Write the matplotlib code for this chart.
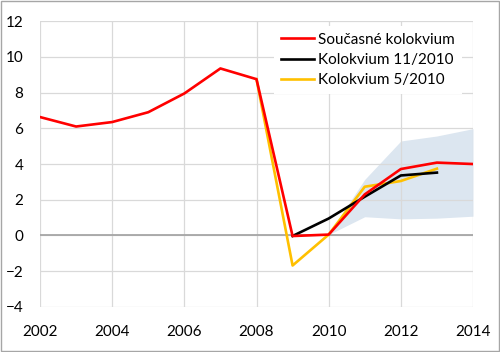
import matplotlib
matplotlib.use("Agg")
import matplotlib.pyplot as plt
from matplotlib.patches import Rectangle

plt.rcParams['font.family'] = ['Lato', 'DejaVu Sans']

years_red = [2002, 2003, 2004, 2005, 2006, 2007, 2008, 2009, 2010, 2011, 2012, 2013, 2014]
red_vals = [6.63, 6.1, 6.35, 6.9, 7.95, 9.35, 8.75, -0.03, 0.05, 2.3, 3.72, 4.08, 4.0]

years_black = [2009, 2010, 2011, 2012, 2013]
black_vals = [-0.03, 0.95, 2.17, 3.36, 3.52]

years_yellow = [2008, 2009, 2010, 2011, 2012, 2013]
yellow_vals = [8.75, -1.68, 0.05, 2.73, 3.05, 3.74]

years_band = [2010, 2011, 2012, 2013, 2014]
band_low = [0.05, 1.05, 0.93, 0.97, 1.08]
band_high = [0.1, 3.14, 5.29, 5.57, 5.98]

labels = ['Současné kolokvium', 'Kolokvium 11/2010', 'Kolokvium 5/2010']

fig = plt.figure(figsize=(5.0, 3.52), dpi=100)
ax = fig.add_axes([0.08, 0.128, 0.866, 0.812])

ax.fill_between(years_band, band_low, band_high, color='#dce6f0', lw=0, zorder=1)
ax.plot(years_yellow, yellow_vals, color='#ffc000', lw=1.9, zorder=3, label=labels[2])
ax.plot(years_black, black_vals, color='#000000', lw=1.9, zorder=4, label=labels[1])
ax.plot(years_red, red_vals, color='#ff0000', lw=1.9, zorder=5, label=labels[0])

ax.set_xlim(2002, 2014)
ax.set_ylim(-4, 12)
ax.set_xticks(range(2002, 2015, 2))
ax.set_yticks(range(-4, 13, 2))
ax.grid(True, color='#d9d9d9', lw=0.9, zorder=0)
ax.axhline(0, color='#a6a6a6', lw=1.3, zorder=2)
for s in ax.spines.values():
    s.set_visible(False)
ax.tick_params(length=0, labelsize=11)
ax.tick_params(axis='x', pad=13)
ax.tick_params(axis='y', pad=12)

h, l = ax.get_legend_handles_labels()
order = [2, 1, 0]
leg = ax.legend([h[i] for i in order], [l[i] for i in order], loc='upper right',
                bbox_to_anchor=(0.985, 1.0), frameon=True, fontsize=11,
                handlelength=2.2, handletextpad=0.25, labelspacing=0.42,
                borderpad=0.45, borderaxespad=0.3, fancybox=False)
leg.get_frame().set_edgecolor('none')
leg.get_frame().set_facecolor('white')
leg.get_frame().set_alpha(1)

fig.patches.append(Rectangle((0.002, 0.003), 0.995, 0.994, transform=fig.transFigure,
                             fill=False, edgecolor='#a6a6a6', lw=1))

fig.savefig('out.png', dpi=100)
